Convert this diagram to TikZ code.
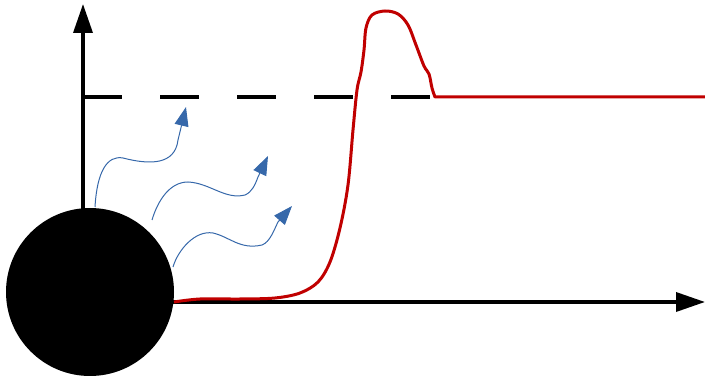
\documentclass[tikz,border=0pt]{standalone}
\usetikzlibrary{arrows.meta}

\begin{document}
\begin{tikzpicture}[x=1pt, y=-1pt,
  axis/.style={line width=3.5pt, -{Triangle[length=29pt, width=19pt]}},
  ball/.style={circle, fill=black, inner sep=0pt, minimum size=168pt},
  level/.style={line width=3.5pt, dash pattern=on 39pt off 38pt},
  signal/.style={draw=sigred, line width=3pt, line join=round},
  wave/.style={draw=wavblue, line width=1pt, -{Triangle[length=19pt, width=14pt, fill=wavblue]}}]
  \definecolor{sigred}{RGB}{192,0,0}
  \definecolor{wavblue}{RGB}{54,104,170}
  \useasboundingbox (0,0) rectangle (705,379);
  \coordinate (o) at (83,302);
  \coordinate (xend) at (705,302);
  \coordinate (yend) at (83,4);
  \coordinate (lvl) at (83,97);
  \coordinate (lvlend) at (432,97);
  \coordinate (rend) at (705,97);
  % axes and level
  \draw[axis] (o) -- (xend);
  \draw[axis] (o) -- (yend);
  \draw[level] (lvl) -- (lvlend);
  % source
  \node[ball] (src) at (90,292) {};
  % response curve
  \draw[signal] plot[smooth, tension=0.55] coordinates {(174,302) (200,299) (240,299) (275,298)
    (300,293) (318,282) (330,262) (340,228) (348,185) (353,130) (357,90) (361,72)
    (364,50) (366,28) (372,15) (385,11) (398,14) (408,25) (416,45) (424,66) (429,74)
    (432,88) (435,97)} -- (rend);
  % emitted waves
  \draw[wave] (95,207) .. controls (97,172) and (107,155) .. (123,158)
    .. controls (150,165) and (175,165) .. (178,140) -- (186,107);
  \draw[wave] (152,220) .. controls (158,200) and (170,182) .. (188,182)
    .. controls (210,183) and (225,200) .. (245,195)
    .. controls (252,192) and (255,185) .. (258,177) -- (268,156);
  \draw[wave] (173,267) .. controls (178,250) and (195,230) .. (213,233)
    .. controls (230,237) and (240,250) .. (262,245)
    .. controls (270,242) and (274,230) .. (278,222) -- (292,206);
\end{tikzpicture}
\end{document}
